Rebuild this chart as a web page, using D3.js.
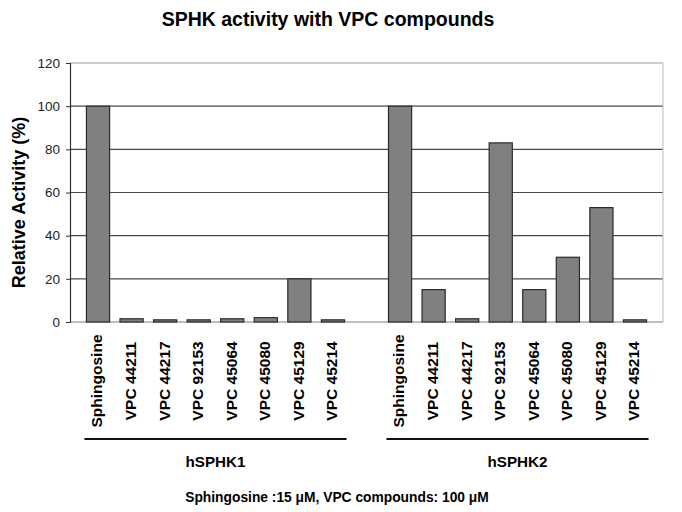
<!DOCTYPE html>
<html>
<head>
<meta charset="utf-8">
<script src="https://cdn.jsdelivr.net/npm/d3@7"></script>
<style>
  body { margin: 0; background: #fff; }
  text { font-family: "Liberation Sans", Arial, sans-serif; }
</style>
</head>
<body>
<div id="chart"></div>
<script>
// data
const groups = ["hSPHK1", "hSPHK2"];
const compounds = ["Sphingosine", "VPC 44211", "VPC 44217", "VPC 92153",
                   "VPC 45064", "VPC 45080", "VPC 45129", "VPC 45214"];
const hsphk1Values = [100, 1.5, 1, 1, 1.5, 2, 20, 1];
const hsphk2Values = [100, 15, 1.5, 83, 15, 30, 53, 1];
const yTicks = [0, 20, 40, 60, 80, 100, 120];

const width = 682, height = 512;
const margin = {top: 63, right: 19, bottom: 190, left: 70};

const svg = d3.select("#chart").append("svg")
    .attr("width", width)
    .attr("height", height);

// build slot keys: group1 compounds, a spacer, group2 compounds
let rows = [];
compounds.forEach((c, i) => rows.push({key: "g1_" + i, group: groups[0], name: c, value: hsphk1Values[i]}));
let slots = rows.map(d => d.key).concat(["gap"]);
compounds.forEach((c, i) => {
    rows.push({key: "g2_" + i, group: groups[1], name: c, value: hsphk2Values[i]});
    slots.push("g2_" + i);
});

let x = d3.scaleBand()
    .domain(slots)
    .range([margin.left, width - margin.right])
    .paddingInner(0.31)
    .paddingOuter(0.49);

let y = d3.scaleLinear()
    .domain([0, 120])
    .range([height - margin.bottom, margin.top]);

// gridlines
svg.append("g")
    .selectAll("line")
    .data(yTicks.filter(t => t > 0))
    .enter().append("line")
    .attr("x1", margin.left)
    .attr("x2", width - margin.right)
    .attr("y1", d => y(d))
    .attr("y2", d => y(d))
    .style("stroke", d => d === 120 ? "#999" : "#4a4a4a")
    .style("stroke-width", 1.2);

// right border + bottom line
svg.append("line")
    .attr("x1", width - margin.right).attr("x2", width - margin.right)
    .attr("y1", y(120)).attr("y2", y(0))
    .style("stroke", "#bbb");
svg.append("line")
    .attr("x1", margin.left).attr("x2", width - margin.right)
    .attr("y1", y(0)).attr("y2", y(0))
    .style("stroke", "#aaa")
    .style("stroke-width", 1.5);

// bars
svg.append("g")
    .selectAll("rect")
    .data(rows)
    .enter().append("rect")
    .attr("x", d => x(d.key))
    .attr("width", x.bandwidth())
    .attr("y", d => y(d.value))
    .attr("height", d => y(0) - y(d.value))
    .style("fill", "#808080")
    .style("stroke", "#2b2b2b")
    .style("stroke-width", 1.2);

// y axis
let yAxis = svg.append("g")
    .attr("transform", `translate(${margin.left},0)`)
    .call(d3.axisLeft(y).tickValues(yTicks).tickSize(4).tickPadding(6));
yAxis.select(".domain").style("stroke", "#333").style("stroke-width", 1.2);
yAxis.selectAll(".tick line").style("stroke", "#333");
yAxis.selectAll(".tick text")
    .style("font-size", "13.5px")
    .style("fill", "#222");

// y label
svg.append("text")
    .attr("transform", `translate(25, ${(y(0) + y(120)) / 2 + 10}) rotate(-90)`)
    .attr("text-anchor", "middle")
    .style("font-size", "18px")
    .style("font-weight", "bold")
    .text("Relative Activity (%)");

// title
svg.append("text")
    .attr("x", 328)
    .attr("y", 26)
    .attr("text-anchor", "middle")
    .style("font-size", "19.5px")
    .style("font-weight", "bold")
    .text("SPHK activity with VPC compounds");

// x labels
svg.append("g")
    .selectAll("text")
    .data(rows)
    .enter().append("text")
    .attr("transform", d => `translate(${x(d.key) + x.bandwidth() / 2 - 1}, 381) rotate(-90)`)
    .attr("text-anchor", "middle")
    .attr("dy", "0.35em")
    .style("font-size", "15.5px")
    .style("font-weight", "bold")
    .text(d => d.name);

// group lines & labels
groups.forEach((g, gi) => {
    let keys = rows.filter(d => d.group === g).map(d => d.key);
    let x0 = x(keys[0]) - 2, x1 = x(keys[keys.length - 1]) + x.bandwidth() + 2;
    svg.append("line")
        .attr("x1", x0).attr("x2", x1)
        .attr("y1", 439).attr("y2", 439)
        .style("stroke", "#111")
        .style("stroke-width", 2.2);
    svg.append("text")
        .attr("x", (x0 + x1) / 2)
        .attr("y", 467)
        .attr("text-anchor", "middle")
        .style("font-size", "15.2px")
        .style("font-weight", "bold")
        .text(g);
});

// footnote
svg.append("text")
    .attr("x", 337)
    .attr("y", 502)
    .attr("text-anchor", "middle")
    .style("font-size", "13.8px")
    .style("font-weight", "bold")
    .text("Sphingosine :15 \u03bcM, VPC compounds: 100 \u03bcM");
</script>
</body>
</html>
